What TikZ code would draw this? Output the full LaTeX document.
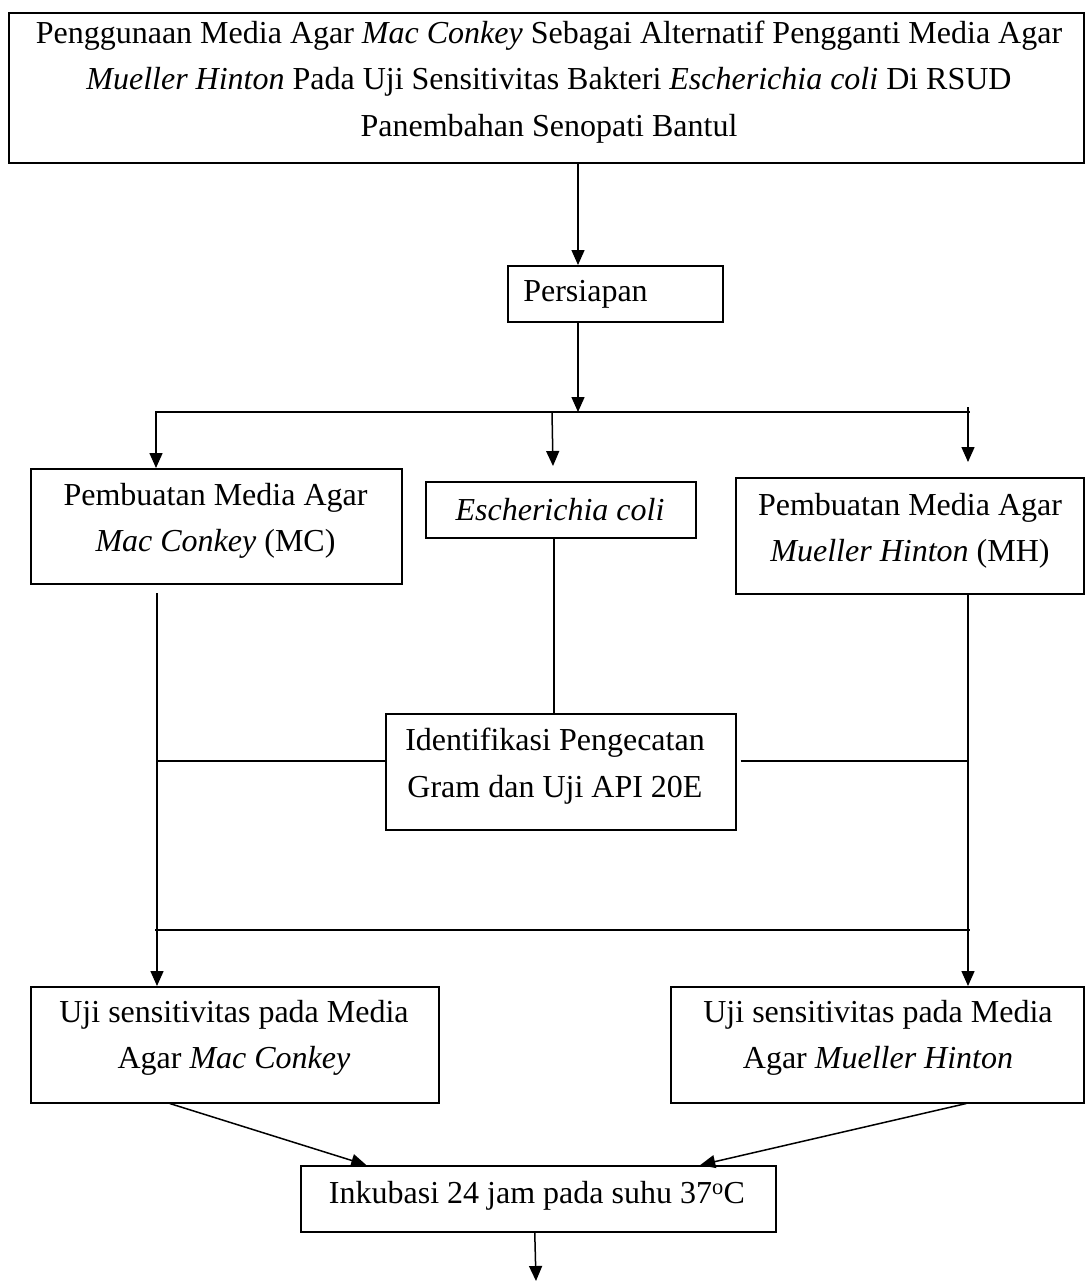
\documentclass[tikz,border=0pt]{standalone}
\usepackage{fontspec}
\setmainfont{Liberation Serif}
\usetikzlibrary{arrows.meta}
\begin{document}
\begin{tikzpicture}[x=1pt,y=-1pt,
  box/.style={draw, line width=1.5pt, inner sep=0pt, anchor=north west},
  txt/.style={align=center, inner sep=0pt, font=\fontsize{32}{46.5}\selectfont},
  conn/.style={line width=1.5pt},
  arr/.style={line width=1.5pt, -{Triangle[length=15pt,width=13pt]}}]
\useasboundingbox[fill=white] (0,0) rectangle (1085,1282);

% boxes
\node[box, minimum width=1075pt, minimum height=150pt] (title) at (8,12) {};
\node[box, minimum width=215pt, minimum height=56pt] (persiapan) at (507,265) {};
\node[box, minimum width=371pt, minimum height=115pt] (mc) at (30,468) {};
\node[box, minimum width=270pt, minimum height=56pt] (ecoli) at (425,481) {};
\node[box, minimum width=348pt, minimum height=116pt] (mh) at (735,477) {};
\node[box, minimum width=350pt, minimum height=116pt] (ident) at (385,713) {};
\node[box, minimum width=408pt, minimum height=116pt] (ujimc) at (30,986) {};
\node[box, minimum width=413pt, minimum height=116pt] (ujimh) at (670,986) {};
\node[box, minimum width=475pt, minimum height=66pt] (ink) at (300,1165) {};

% texts
\node[txt] (ttitle) at (549,82) {Penggunaan Media Agar \textit{Mac Conkey} Sebagai Alternatif Pengganti Media Agar\\ \textit{Mueller Hinton} Pada Uji Sensitivitas Bakteri \textit{Escherichia coli} Di RSUD\\ Panembahan Senopati Bantul};
\node[txt] (tpersiapan) at (585.5,294) {Persiapan};
\node[txt] (tmc) at (215.5,521) {Pembuatan Media Agar\\ \textit{Mac Conkey} (MC)};
\node[txt] (tecoli) at (560,510) {\textit{Escherichia coli}};
\node[txt] (tmh) at (910,531) {Pembuatan Media Agar\\ \textit{Mueller Hinton} (MH)};
\node[txt] (tident) at (555,766) {Identifikasi Pengecatan\\ Gram dan Uji API 20E};
\node[txt] (tujimc) at (234,1038) {Uji sensitivitas pada Media\\ Agar \textit{Mac Conkey}};
\node[txt] (tujimh) at (878,1038) {Uji sensitivitas pada Media\\ Agar \textit{Mueller Hinton}};
\node[txt] (tink) at (537,1196) {Inkubasi 24 jam pada suhu 37\textsuperscript{o}C};

% junction coordinates
\coordinate (ja) at (578,412);
\coordinate (hl) at (155,412);
\coordinate (hr) at (970,412);
\coordinate (bl) at (156,412);
\coordinate (bm) at (552,412);
\coordinate (bmend) at (553,466);
\coordinate (br) at (968,407);
\coordinate (brend) at (968,462);
\coordinate (lv) at (157,593);
\coordinate (hm) at (157,761);
\coordinate (hmr) at (968,761);
\coordinate (hbl) at (155,930);
\coordinate (hbr) at (970,930);
\coordinate (fin) at (536,1281);

% connectors
\draw[arr] (title.south -| ja) -- (persiapan.north -| ja);
\draw[arr] (persiapan.south -| ja) -- (ja);
\draw[conn] (hl) -- (hr);
\draw[arr] (bl) -- (bl |- mc.north);
\draw[arr] (bm) -- (bmend);
\draw[arr] (br) -- (brend);
\draw[arr] (lv) -- (lv |- ujimc.north);
\draw[conn] ([xshift=-7pt]ecoli.south) -- ([xshift=-7pt]ident.north);
\draw[conn] (hm) -- (hm -| ident.west);
\draw[conn] ([xshift=4pt]ident.east |- hmr) -- (hmr);
\draw[arr] (mh.south -| br) -- (br |- ujimh.north);
\draw[conn] (hbl) -- (hbr);
\draw[arr] ([xshift=-65pt]ujimc.south) -- ([xshift=-172pt]ink.north);
\draw[arr] ([xshift=89pt]ujimh.south) -- ([xshift=162pt]ink.north);
\draw[arr] ([xshift=-3.5pt]ink.south) -- (fin);
\end{tikzpicture}
\end{document}
